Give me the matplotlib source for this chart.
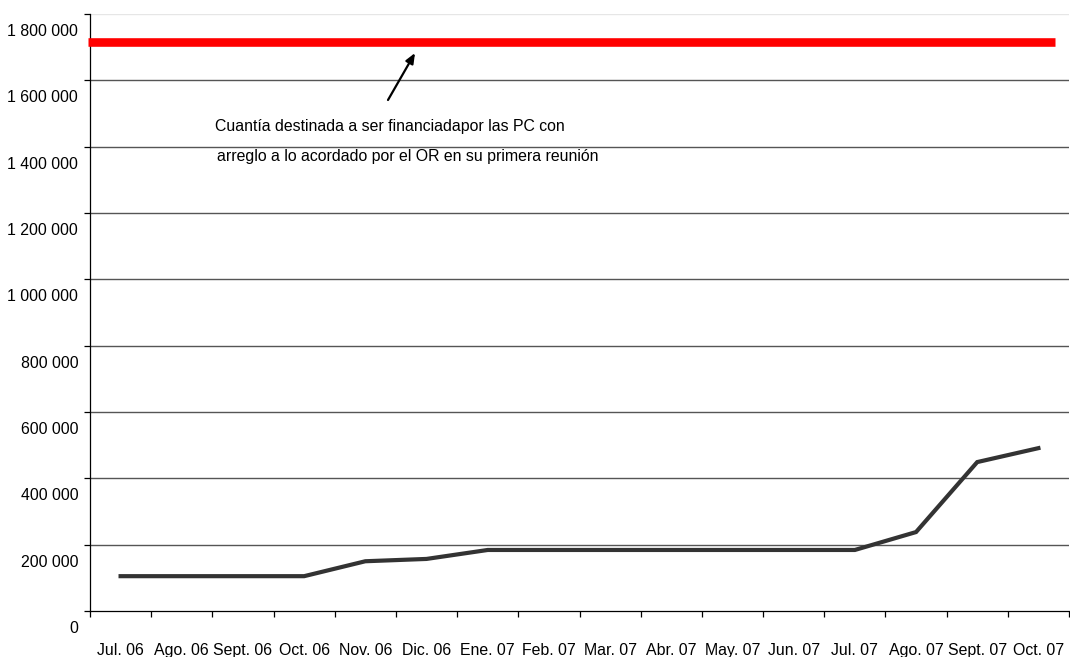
import matplotlib
matplotlib.use("Agg")
import matplotlib.pyplot as plt
from matplotlib.ticker import FixedLocator, FuncFormatter
from matplotlib.transforms import ScaledTranslation

plt.rcParams['font.family'] = ['Liberation Sans', 'DejaVu Sans']

months = ["Jul. 06", "Ago. 06", "Sept. 06", "Oct. 06", "Nov. 06", "Dic. 06",
          "Ene. 07", "Feb. 07", "Mar. 07", "Abr. 07", "May. 07", "Jun. 07",
          "Jul. 07", "Ago. 07", "Sept. 07", "Oct. 07"]
contributions = [105000, 105000, 105000, 105000, 150000, 157000,
                 184000, 184000, 184000, 184000, 184000, 184000,
                 184000, 238000, 449000, 491000]
target_amount = 1716000
y_ticks = [0, 200000, 400000, 600000, 800000, 1000000, 1200000,
           1400000, 1600000, 1800000]
annotation_lines = ["Cuantía destinada a ser financiadapor las PC con",
                    "arreglo a lo acordado por el OR en su primera reunión"]

fig = plt.figure(figsize=(10.7, 6.57), dpi=100)
ax = fig.add_axes([90/1070, 1 - 611/657, (1069-90)/1070, (611-14)/657])

x = list(range(len(months)))
ax.set_xlim(-0.5, len(months) - 0.5)
ax.set_ylim(0, 1800000)

# gridlines
for v in y_ticks[1:]:
    col = '#e6e6e6' if v == y_ticks[-1] else '#555555'
    ax.axhline(v, color=col, lw=1.0, zorder=1)

ax.axhline(target_amount, xmin=-0.002, xmax=0.986, color='#ff0000', lw=6.2,
           solid_capstyle='butt', zorder=3, clip_on=False)
ax.plot(x, contributions, color='#333333', lw=3.0, zorder=4,
        solid_joinstyle='miter')

for s in ['top', 'right']:
    ax.spines[s].set_visible(False)
for s in ['left', 'bottom']:
    ax.spines[s].set_color('#000000')
    ax.spines[s].set_linewidth(0.9)

ax.yaxis.set_major_locator(FixedLocator(y_ticks))
ax.yaxis.set_major_formatter(FuncFormatter(lambda v, p: f"{int(v):,}".replace(",", " ")))
ax.tick_params(axis='y', direction='out', length=4, width=0.9, pad=4.5,
               labelsize=11.4, colors='#000000')

ax.set_xticks(x)
ax.set_xticklabels(months)
ax.set_xticks([i - 0.5 for i in range(len(months) + 1)], minor=True)
ax.tick_params(axis='x', which='major', length=0, pad=23, labelsize=11.4)
ax.tick_params(axis='x', which='minor', direction='out', length=4, width=0.9)

offset = ScaledTranslation(0, -16/100, fig.dpi_scale_trans)
for lab in ax.get_yticklabels():
    lab.set_transform(lab.get_transform() + offset)

ax.annotate("", xy=(415/1070, 1 - 53/657), xycoords='figure fraction',
            xytext=(388/1070, 1 - 100/657), textcoords='figure fraction',
            arrowprops=dict(arrowstyle='-|>,head_length=0.6,head_width=0.25',
                            color='black', lw=1.6, shrinkA=0, shrinkB=0))
fig.text(215/1070, 1 - 127/657, annotation_lines[0], fontsize=11.4,
         ha='left', va='center')
fig.text(217/1070, 1 - 156/657, annotation_lines[1], fontsize=11.4,
         ha='left', va='center')

fig.savefig("out.png", dpi=100)
